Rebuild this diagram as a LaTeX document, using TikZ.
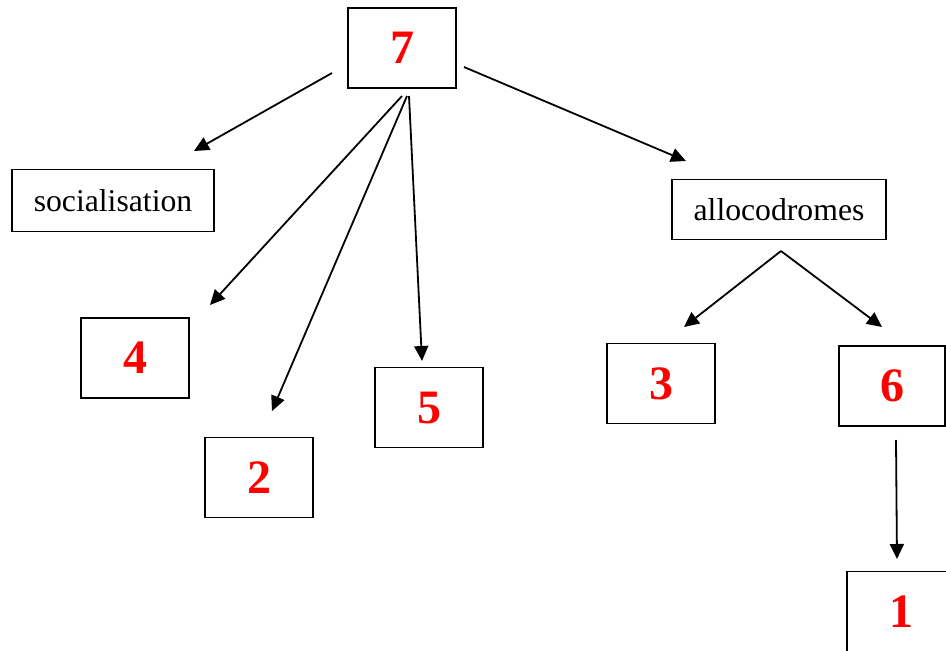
\documentclass[tikz,border=0pt]{standalone}
\usepackage{fontspec}
\setmainfont{Liberation Serif}
\usetikzlibrary{arrows.meta}
\definecolor{numred}{RGB}{255,0,0}
\tikzset{
  box/.style={draw=black, line width=1.2pt, rectangle, inner sep=0pt, minimum width=108pt, minimum height=80pt},
  wordbox/.style={draw=black, line width=1.2pt, rectangle, inner sep=0pt, font=\fontsize{31.7}{36}\selectfont},
  num/.style={text=numred, font=\fontsize{48}{52}\selectfont\bfseries},
  arr/.style={line width=1.8pt, -{Triangle[length=15pt,width=14pt]}}
}
\begin{document}
\begin{tikzpicture}[x=1pt,y=-1pt]
\useasboundingbox (0,0) rectangle (946,651);
\clip (0,0) rectangle (946,651);
% nodes
\node[box, num] (n7) at (402,48) {7};
\node[wordbox, minimum width=202pt, minimum height=62pt] (soc) at (113,200.5) {socialisation};
\node[wordbox, minimum width=214pt, minimum height=60pt] (allo) at (779,209.5) {allocodromes};
\node[box, num] (n4) at (135,358) {4};
\node[box, num] (n2) at (259,477.5) {2};
\node[box, num] (n5) at (429,407.7) {5};
\node[box, num] (n3) at (661,383.5) {3};
\node[box, num, minimum width=106pt] (n6) at (892,386) {6};
\node[box, num] (n1) at (901,611.5) {1};
% free connector ends
\coordinate (s1) at (332,73);  \coordinate (e1) at (194,151);
\coordinate (s2) at (402,96);  \coordinate (e2) at (210,305);
\coordinate (s3) at (407,96);  \coordinate (e3) at (272,411);
\coordinate (s4) at (409,96);  \coordinate (e4) at (422,361);
\coordinate (s5) at (464,67);  \coordinate (e5) at (686,161);
\coordinate (s6) at (781,251); \coordinate (e6) at (684,327);
\coordinate (e7) at (882,327);
\coordinate (s8) at (896,440); \coordinate (e8) at (897,559);
% connectors
\draw[arr] (s1) -- (e1);
\draw[arr] (s2) -- (e2);
\draw[arr] (s3) -- (e3);
\draw[arr] (s4) -- (e4);
\draw[arr] (s5) -- (e5);
\draw[arr] (s6) -- (e6);
\draw[arr] (s6) -- (e7);
\draw[arr] (s8) -- (e8);
\end{tikzpicture}
\end{document}
